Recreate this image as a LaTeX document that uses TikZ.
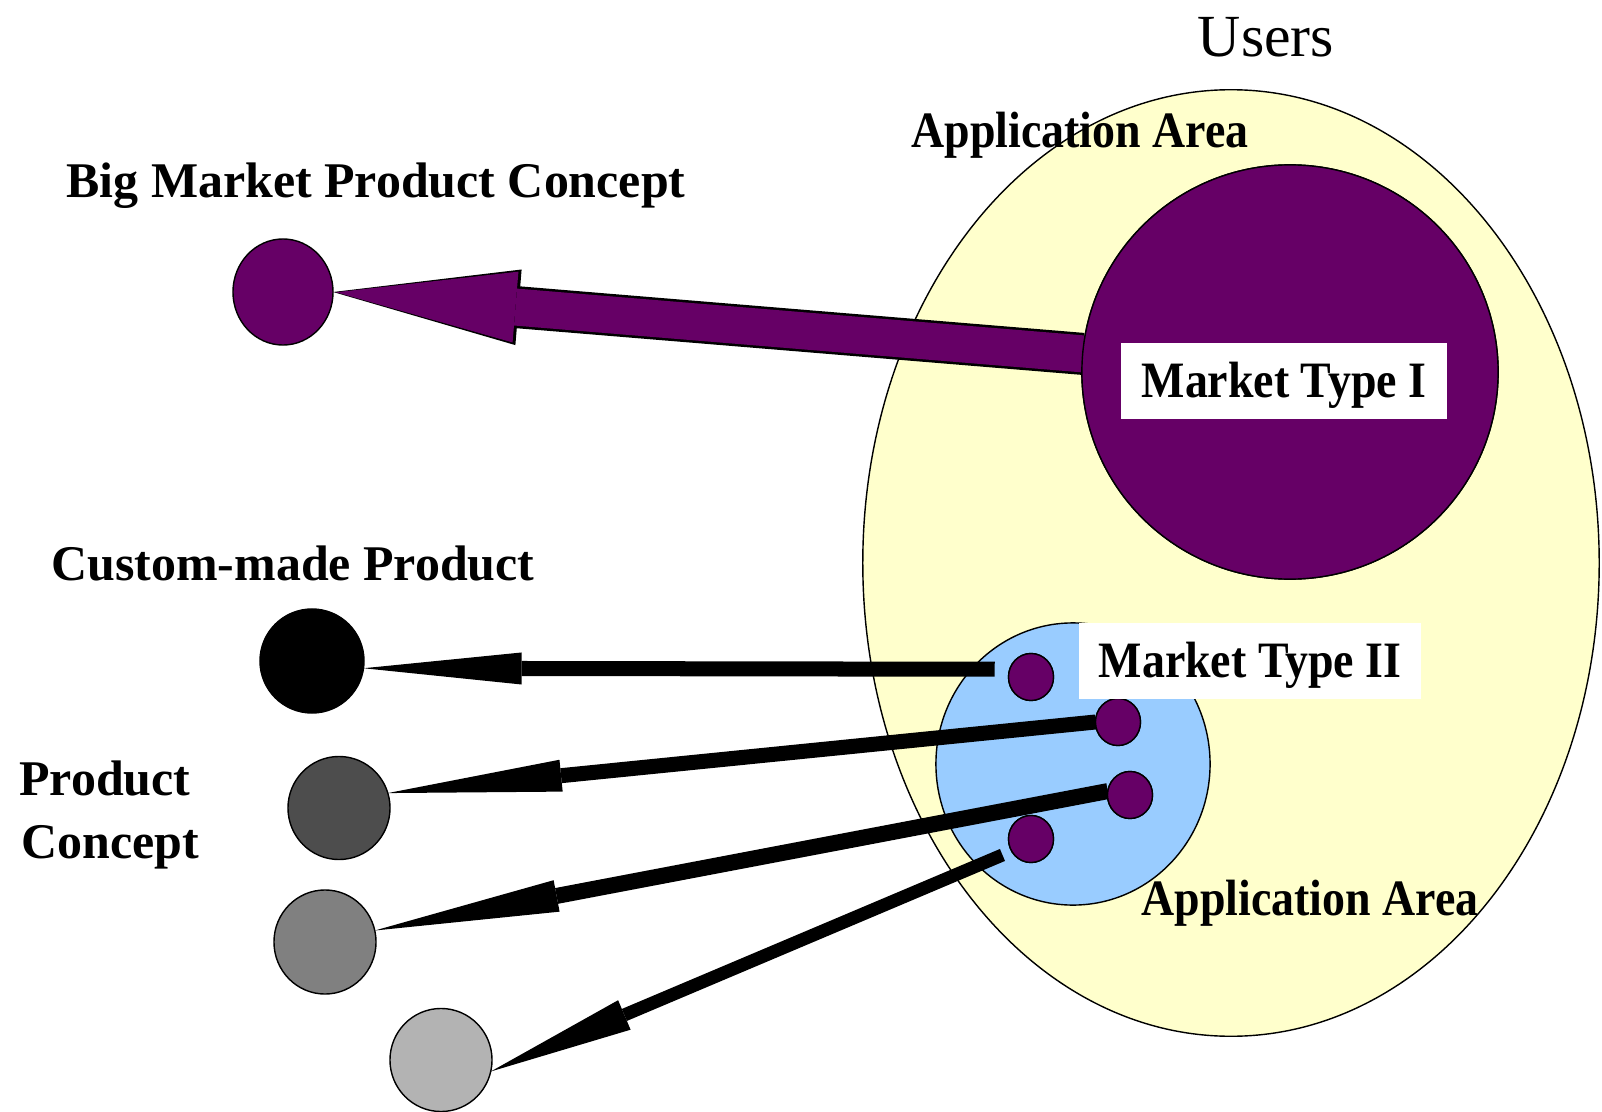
\documentclass[tikz,border=0pt]{standalone}
\usepackage{fontspec}
\setmainfont{Liberation Serif}
\newfontfamily\condserif[FakeStretch=0.9]{Liberation Serif}
\usetikzlibrary{arrows.meta,shapes.geometric}

\definecolor{areayellow}{HTML}{FFFFCC}
\definecolor{areablue}{HTML}{99CCFF}
\definecolor{mktpurple}{HTML}{660066}
\definecolor{greydark}{HTML}{4D4D4D}
\definecolor{greymid}{HTML}{808080}
\definecolor{greylight}{HTML}{B3B3B3}

\begin{document}
\begin{tikzpicture}[x=0.01cm,y=-0.01cm,
  blob/.style={ellipse,draw=black,line width=0.4pt,inner sep=0pt,outer sep=0pt},
  dot/.style={blob,fill=mktpurple,minimum width=0.45cm,minimum height=0.47cm},
  prod/.style={blob,minimum width=1.02cm,minimum height=1.03cm},
  lbl/.style={font=\fontsize{14.2}{16}\selectfont\bfseries,anchor=base,inner sep=0pt},
  lblc/.style={font=\condserif\fontsize{14.5}{16}\selectfont\bfseries,anchor=base,inner sep=0pt},
  tagbox/.style={fill=white,inner sep=0pt,text height=9.6pt,text depth=0pt,
    font=\condserif\fontsize{14.5}{16}\selectfont\bfseries},
  bigflowedge/.style={draw=black,line width=0.42cm,
    -{Triangle[length=1.86cm,width=0.75cm,line width=0.03cm]}},
  bigflow/.style={draw=mktpurple,line width=0.37cm,
    -{Triangle[length=1.80cm,width=0.71cm,line width=0pt]},color=mktpurple},
  flow/.style={draw=black,line width=0.15cm,
    -{Triangle[length=#1,width=0.32cm,line width=0pt]}},
  flow/.default=1.7cm]

% page frame
\fill[white] (0,0) rectangle (1602,1112);
\useasboundingbox (0,0) rectangle (1602,1112);

% application areas
\node[blob,fill=areayellow,minimum width=7.36cm,minimum height=9.46cm] (users area) at (1231,563) {};
\node[blob,fill=areablue,minimum width=2.74cm,minimum height=2.82cm] (niche area) at (1073,764) {};

% product concepts on the left
\node[blob,fill=mktpurple,minimum width=1.00cm,minimum height=1.06cm] (bm) at (283,292) {};
\node[prod,fill=black,minimum width=1.04cm,minimum height=1.04cm] (cb) at (312,661) {};
\node[prod,fill=greydark] (cd) at (339,808) {};
\node[prod,fill=greymid,minimum height=1.04cm] (cm) at (325,942) {};
\node[prod,fill=greylight] (cl) at (441,1060) {};

% market type I and its product concept
\coordinate (mt1c) at (1290,372);
\node[blob,minimum width=4.16cm,minimum height=4.14cm] (mt1) at (mt1c) {};
\draw[bigflowedge] (mt1.175) -- (bm.east);
\draw[bigflow,shorten >=0.03cm] (mt1.175) -- (bm.east);
\node[blob,fill=mktpurple,minimum width=4.16cm,minimum height=4.14cm] (mt1disc) at (mt1c) {};
\node[tagbox,minimum width=3.25cm,minimum height=0.76cm] (mt1tag) at (1284,381) {Market Type I};

% market type II segments
\node[dot] (d1) at (1031,677) {};
\node[dot] (d2) at (1118,722) {};
\node[dot] (d3) at (1130,795) {};
\node[dot] (d4) at (1031,839) {};

\draw[flow=1.58cm,shorten <=0.15cm] (d1.160) -- (cb.-8);
\draw[flow=1.74cm] (d2.west) -- (cd.17);
\draw[flow=1.85cm,line width=0.16cm] (d3.170) -- (cm.13);
\draw[flow=1.45cm,line width=0.13cm,shorten <=0.1cm] (d4.212) -- (cl.-13);

% redraw the segment dots above the connectors
\node[dot] (d1top) at (d1) {};
\node[dot] (d2top) at (d2) {};
\node[dot] (d3top) at (d3) {};
\node[dot] (d4top) at (d4) {};

\node[tagbox,minimum width=3.41cm,minimum height=0.75cm] (mt2tag) at (1250,661) {Market Type II};

% labels
\node[anchor=base,inner sep=0pt,font=\fontsize{17}{20}\selectfont] (users) at (1266,56) {Users};
\node[lblc] (area1) at (1080,147) {Application Area};
\node[lblc] (area2) at (1310,915) {Application Area};
\node[lbl] (bmlbl) at (376,197) {Big Market Product Concept};
\node[lbl] (cblbl) at (293,580) {Custom-made Product};
\node[lbl] (pclbl1) at (105,795) {Product};
\node[lbl] (pclbl2) at (110,858) {Concept};
\end{tikzpicture}
\end{document}
